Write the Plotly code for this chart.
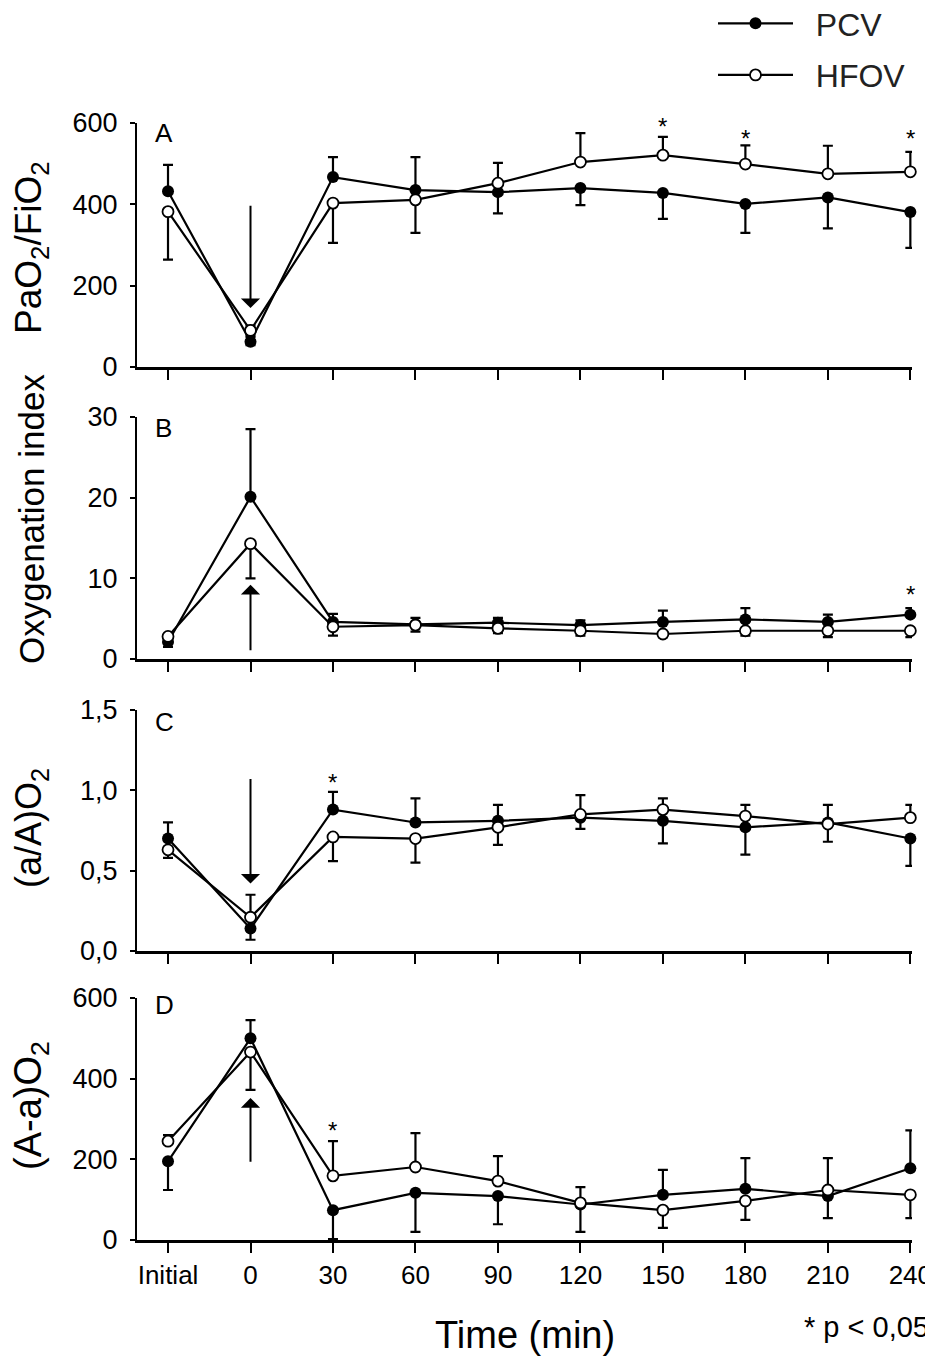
import plotly.graph_objects as go

# the page puts the figure 8 px in from the top-left corner
OFF = 8
W, H = 933 - OFF, 1359 - OFF

# x categories
x_pos = list(range(10))
x_labels = ["Initial", "0", "30", "60", "90", "120", "150", "180", "210", "240"]

# Panel A: PaO2/FiO2
pcv_a = [432, 62, 467, 435, 430, 440, 428, 401, 417, 381]
pcv_a_up = [65, 12, 49, 81, 0, 0, 0, 0, 0, 0]
pcv_a_dn = [0, 8, 0, 0, 52, 42, 64, 71, 76, 88]
hfov_a = [382, 90, 403, 411, 452, 504, 521, 499, 475, 480]
hfov_a_up = [0, 12, 0, 0, 50, 71, 45, 46, 69, 49]
hfov_a_dn = [118, 12, 98, 81, 0, 0, 0, 0, 0, 0]

# Panel B: oxygenation index
pcv_b = [2.1, 20.1, 4.6, 4.3, 4.5, 4.2, 4.6, 4.9, 4.6, 5.5]
pcv_b_up = [0, 8.4, 1.0, 0.8, 0.6, 0.6, 1.4, 1.4, 0.9, 0.8]
pcv_b_dn = [0.6, 0, 0, 0, 0, 0, 0, 0, 0, 0]
hfov_b = [2.8, 14.3, 4.0, 4.2, 3.8, 3.5, 3.1, 3.5, 3.5, 3.5]
hfov_b_up = [0, 0, 0, 0, 0, 0, 0, 0, 0, 0]
hfov_b_dn = [0, 4.3, 1.1, 0.8, 0.6, 0.6, 0.4, 0.6, 0.8, 0.8]

# Panel C: (a/A)O2
pcv_c = [0.70, 0.14, 0.88, 0.80, 0.81, 0.83, 0.81, 0.77, 0.80, 0.70]
pcv_c_up = [0.10, 0, 0.11, 0.15, 0.10, 0, 0, 0, 0, 0]
pcv_c_dn = [0, 0.07, 0, 0, 0, 0.07, 0.14, 0.17, 0.12, 0.17]
hfov_c = [0.63, 0.21, 0.71, 0.70, 0.77, 0.85, 0.88, 0.84, 0.79, 0.83]
hfov_c_up = [0, 0.14, 0, 0, 0, 0.12, 0.07, 0.07, 0.12, 0.08]
hfov_c_dn = [0.05, 0, 0.15, 0.15, 0.11, 0, 0, 0, 0, 0]

# Panel D: (A-a)O2
pcv_d = [195, 500, 74, 117, 109, 88, 112, 127, 109, 178]
pcv_d_up = [0, 45, 0, 0, 0, 0, 62, 76, 0, 94]
pcv_d_dn = [71, 0, 72, 97, 70, 68, 0, 0, 55, 0]
hfov_d = [245, 466, 159, 181, 146, 92, 74, 97, 124, 112]
hfov_d_up = [15, 0, 86, 84, 62, 39, 0, 0, 79, 0]
hfov_d_dn = [0, 94, 0, 0, 0, 0, 44, 47, 0, 58]

# significance stars (x index, y value) per panel
stars_a = [(6, 592), (7, 562), (9, 562)]
stars_b = [(9, 8.0)]
stars_c = [(2, 1.05)]
stars_d = [(2, 272)]

# arrows (x index, tail, tip)
arrows = {"y": (1, 400, 145), "y2": (1, 0.9, 9.2), "y3": (1, 1.08, 0.42), "y4": (1, 190, 352)}


def fx(px):
    return (px - OFF) / W


def fy(py):
    return 1 - (py - OFF) / H


# pixel geometry of the panels in the target picture (top, bottom)
panels = [(123, 367), (417, 659), (710, 951), (998, 1240)]
x_left, x_right = 137, 912

fig = go.Figure()

data_sets = [
    (pcv_a, pcv_a_up, pcv_a_dn, hfov_a, hfov_a_up, hfov_a_dn),
    (pcv_b, pcv_b_up, pcv_b_dn, hfov_b, hfov_b_up, hfov_b_dn),
    (pcv_c, pcv_c_up, pcv_c_dn, hfov_c, hfov_c_up, hfov_c_dn),
    (pcv_d, pcv_d_up, pcv_d_dn, hfov_d, hfov_d_up, hfov_d_dn),
]

for i, (p, pu, pd, h, hu, hd) in enumerate(data_sets):
    xa = "x" if i == 0 else "x%d" % (i + 1)
    ya = "y" if i == 0 else "y%d" % (i + 1)
    fig.add_trace(go.Scatter(
        x=x_pos, y=p, xaxis=xa, yaxis=ya, mode="lines+markers",
        name="\u00a0\u00a0PCV", legendgroup="pcv", showlegend=(i == 0), cliponaxis=False,
        line=dict(color="black", width=2.2),
        marker=dict(symbol="circle", size=12, color="black"),
        error_y=dict(type="data", symmetric=False, array=pu, arrayminus=pd,
                     color="black", thickness=2.2, width=5),
    ))
    fig.add_trace(go.Scatter(
        x=x_pos, y=h, xaxis=xa, yaxis=ya, mode="lines+markers",
        name="\u00a0\u00a0HFOV", legendgroup="hfov", showlegend=(i == 0), cliponaxis=False,
        line=dict(color="black", width=2.2),
        marker=dict(symbol="circle", size=11, color="white",
                    line=dict(color="black", width=1.8)),
        error_y=dict(type="data", symmetric=False, array=hu, arrayminus=hd,
                     color="black", thickness=2.2, width=5),
    ))

font_main = "Liberation Sans, Arial, sans-serif"
y_ranges = [[0, 600], [0, 30], [0, 1.5], [0, 600]]
y_ticks = [[0, 200, 400, 600], [0, 10, 20, 30], [0, 0.5, 1.0, 1.5], [0, 200, 400, 600]]
y_ticktext = [["0", "200", "400", "600"], ["0", "10", "20", "30"],
              ["0,0", "0,5", "1,0", "1,5"], ["0", "200", "400", "600"]]

layout = {}
for i, (top, bot) in enumerate(panels):
    sfx = "" if i == 0 else str(i + 1)
    layout["xaxis" + sfx] = dict(
        domain=[fx(x_left), fx(x_right)], range=[-0.376, 9.02],
        anchor="y" + sfx, tickvals=x_pos, ticktext=x_labels,
        showticklabels=(i == 3), ticks="outside", ticklen=10, tickwidth=2,
        tickcolor="black", showline=True, linecolor="black", linewidth=2.5,
        showgrid=False, zeroline=False, automargin=False,
        tickfont=dict(family=font_main, size=26, color="black"),
    )
    layout["yaxis" + sfx] = dict(
        domain=[fy(bot), fy(top)], range=y_ranges[i],
        anchor="x" + sfx, tickvals=y_ticks[i], ticktext=y_ticktext[i],
        ticks="outside", ticklen=5, tickwidth=2, tickcolor="black",
        showline=True, linecolor="black", linewidth=2,
        showgrid=False, zeroline=False, ticklabelstandoff=7, automargin=False,
        tickfont=dict(family=font_main, size=27, color="black"),
    )

fig.update_layout(
    width=W, height=H,
    margin=dict(l=0, r=0, t=0, b=0, pad=0, autoexpand=False),
    paper_bgcolor="white", plot_bgcolor="white",
    font=dict(family=font_main, color="black"),
    legend=dict(x=(718 - 13) / W, y=1 + 12 / H, xanchor="left", yanchor="top",
                font=dict(size=32, color="#222222"), itemwidth=75,
                tracegroupgap=7, bgcolor="rgba(0,0,0,0)"),
    **layout
)

annotations = []
# panel letters
letter_y = [133, 428, 722, 1005]
for letter, yc in zip("ABCD", letter_y):
    annotations.append(dict(text=letter, x=fx(153), y=fy(yc), xref="paper", yref="paper",
                            xanchor="left", yanchor="middle", showarrow=False,
                            font=dict(size=26, color="black")))

# y-axis titles
y_titles = [("PaO<sub>2</sub>/FiO<sub>2</sub>", 248, 37), ("Oxygenation index", 519, 35),
            ("(a/A)O<sub>2</sub>", 828, 36), ("(A-a)O<sub>2</sub>", 1106, 38)]
for text, yc, fs in y_titles:
    annotations.append(dict(text=text, x=fx(31), y=fy(yc), xref="paper", yref="paper",
                            textangle=-90, showarrow=False, xanchor="center", yanchor="middle",
                            font=dict(size=fs, color="black")))

# stars
for ya, stars in zip(["y", "y2", "y3", "y4"], [stars_a, stars_b, stars_c, stars_d]):
    xa = "x" if ya == "y" else "x" + ya[1:]
    for sx, sy in stars:
        annotations.append(dict(text="*", x=sx, y=sy, xref=xa, yref=ya, showarrow=False,
                                font=dict(size=24, color="black")))

# arrows
for ya, (ax_x, tail, tip) in arrows.items():
    xa = "x" if ya == "y" else "x" + ya[1:]
    annotations.append(dict(x=ax_x, y=tip, ax=ax_x, ay=tail, xref=xa, yref=ya,
                            axref=xa, ayref=ya, text="", showarrow=True,
                            arrowhead=1, arrowsize=1.6, arrowwidth=2, arrowcolor="black"))

# x title and footnote
annotations.append(dict(text="Time (min)", x=fx(525), y=fy(1335), xref="paper", yref="paper",
                        xanchor="center", yanchor="middle",
                        showarrow=False, font=dict(size=38, color="black")))
annotations.append(dict(text="* p < 0,05", x=fx(931), y=fy(1327), xref="paper", yref="paper",
                        xanchor="right", yanchor="middle",
                        showarrow=False, font=dict(size=29, color="black")))

fig.update_layout(annotations=annotations)

fig.write_html("out.html")
